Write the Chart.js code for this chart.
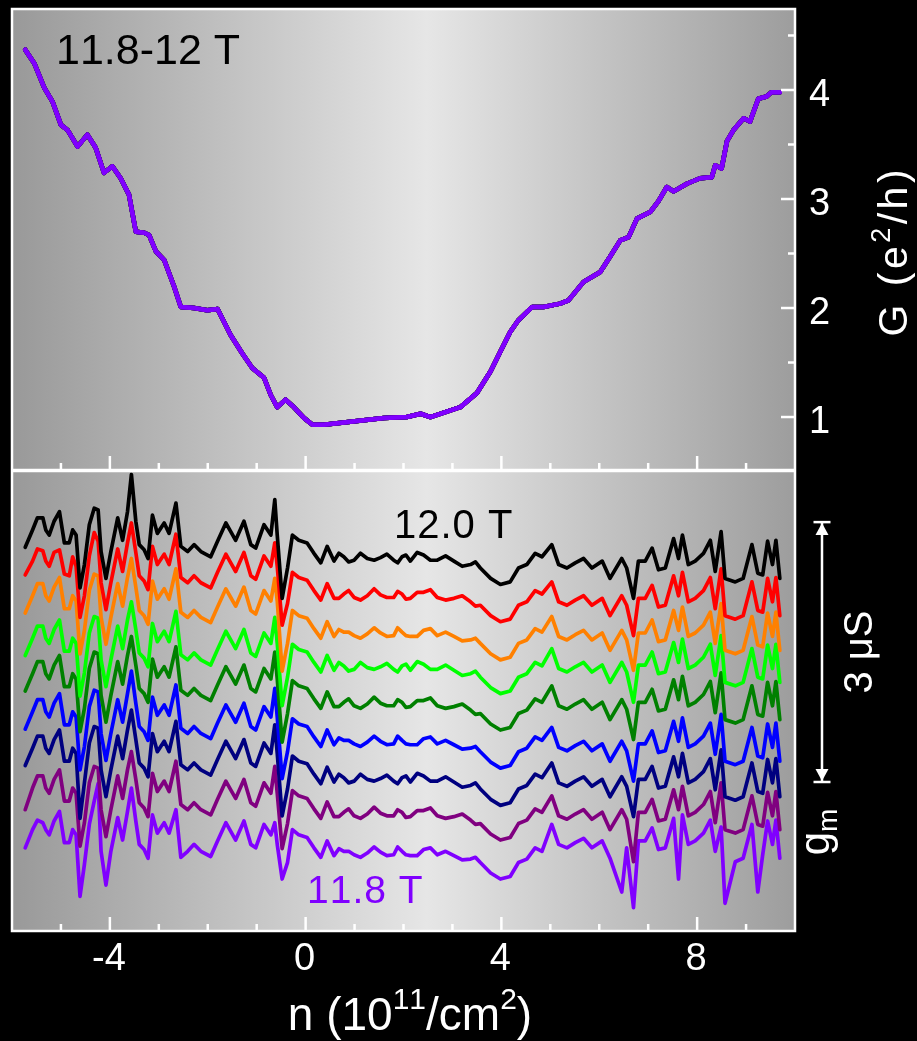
<!DOCTYPE html>
<html>
<head>
<meta charset="utf-8">
<script src="https://cdn.jsdelivr.net/npm/chart.js@4.4.0/dist/chart.umd.min.js"></script>
<style>
  html, body { margin: 0; padding: 0; background: #000; width: 917px; height: 1041px; overflow: hidden; }
  canvas { position: absolute; left: 0; }
  #topPanel { top: 0; }
  #gmPanel { top: 471px; }
</style>
</head>
<body>
<canvas id="topPanel" width="917" height="471"></canvas>
<canvas id="gmPanel" width="917" height="570"></canvas>
<script>
// ---- Magnetic fields of the sweep (T), top trace first ----
const fields = ['12.000', '11.975', '11.950', '11.925', '11.900', '11.875', '11.850', '11.825', '11.800'];
const traceColors = ['#000000', '#ff0000', '#ff8000', '#00ff00', '#008000', '#0000ff', '#000080', '#800080', '#8000ff'];

// ---- Two-terminal conductance G (e^2/h) vs density n (1e11 cm^-2) ----
const nG = [-5.73,-5.54,-5.34,-5.17,-5.00,-4.86,-4.66,-4.46,-4.29,-4.12,-3.95,-3.78,-3.61,-3.47,-3.30,-3.20,-3.06,-2.89,-2.69,-2.55,
  -2.28,-2.01,-1.80,-1.53,-1.29,-1.09,-0.85,-0.71,-0.58,-0.41,-0.24,-0.03,0.14,0.37,0.78,1.19,1.60,2.07,2.35,2.55,
  3.16,3.50,3.78,3.98,4.18,4.35,4.63,4.86,5.20,5.37,5.68,6.02,6.22,6.43,6.60,6.77,7.04,7.21,7.38,7.52,
  7.79,8.06,8.30,8.37,8.50,8.61,8.74,8.95,9.08,9.25,9.42,9.52,9.69];
const conductance = [4.37,4.24,4.02,3.89,3.68,3.63,3.48,3.59,3.47,3.24,3.30,3.19,3.04,2.70,2.69,2.67,2.52,2.44,2.20,2.01,
  2.00,1.98,1.99,1.75,1.58,1.45,1.36,1.20,1.09,1.16,1.09,0.99,0.93,0.93,0.95,0.97,0.99,1.00,1.03,1.00,
  1.09,1.22,1.42,1.60,1.78,1.89,2.01,2.01,2.04,2.07,2.24,2.33,2.47,2.62,2.65,2.82,2.88,2.98,3.11,3.07,
  3.14,3.19,3.20,3.31,3.28,3.53,3.63,3.74,3.71,3.92,3.94,3.98,3.98];
const gTickLabels = [1, 2, 3, 4];
const nTickLabels = [-4, 0, 4, 8];

// ---- Transconductance g_m traces (uS, stacked), sampled on a shared density grid ----
const nGrid = [-5.73,-5.58,-5.48,-5.37,-5.31,-5.24,-5.14,-5.03,-4.93,-4.83,
  -4.76,-4.69,-4.61,-4.52,-4.42,-4.32,-4.24,-4.18,-4.08,-3.98,
  -3.84,-3.74,-3.64,-3.56,-3.47,-3.40,-3.30,-3.22,-3.13,-3.03,
  -2.89,-2.79,-2.65,-2.55,-2.41,-2.28,-2.14,-1.94,-1.80,-1.63,
  -1.53,-1.43,-1.26,-1.12,-1.02,-0.85,-0.71,-0.63,-0.58,-0.48,
  -0.37,-0.27,-0.14,0.03,0.17,0.31,0.44,
  0.58,0.68,0.78,0.88,0.99,1.12,1.26,1.40,1.53,1.66,1.80,1.88,1.97,2.05,2.14,2.28,2.41,2.55,2.69,2.86,3.03,3.20,3.37,3.47,3.57,
  3.78,3.98,4.18,4.35,4.52,4.69,4.83,5.03,5.17,5.34,
  5.51,5.68,5.85,6.06,6.22,6.46,6.56,6.70,6.80,6.94,
  7.08,7.21,7.35,7.52,7.62,7.70,7.82,7.96,8.13,8.27,
  8.37,8.49,8.57,8.78,8.94,9.12,9.24,9.34,9.44,9.54,
  9.61,9.69];

const gm_12000 = [4.43,4.63,4.77,4.77,4.63,4.57,4.73,4.84,4.48,4.48,
  4.63,4.57,3.96,4.23,4.69,4.88,4.86,4.38,4.07,4.38,
  4.77,4.51,4.84,5.27,4.73,4.46,4.40,4.30,4.80,4.59,
  4.71,4.59,4.94,4.44,4.38,4.46,4.38,4.32,4.50,4.71,
  4.61,4.51,4.73,4.46,4.42,4.69,4.57,4.98,4.57,3.84,
  4.19,4.57,4.51,4.48,4.36,4.25,4.44,
  4.27,4.36,4.32,4.26,4.28,4.36,4.30,4.28,4.31,4.35,4.28,4.25,4.32,4.34,4.27,4.37,4.34,4.28,4.28,4.33,4.27,4.21,4.23,4.26,4.19,
  4.07,4.00,4.03,4.19,4.23,4.36,4.32,4.46,4.23,4.19,
  4.25,4.30,4.19,4.27,4.07,4.30,4.19,3.84,4.27,4.27,
  4.42,4.17,4.19,4.53,4.30,4.57,4.23,4.27,4.36,4.51,
  4.15,4.61,4.07,4.03,4.07,4.46,4.13,4.11,4.50,4.23,
  4.51,4.07];
const gm_11975 = [4.11,4.27,4.41,4.39,4.27,4.21,4.37,4.40,4.12,4.10,
  4.32,4.21,3.62,3.87,4.33,4.60,4.50,4.02,3.71,4.02,
  4.41,4.15,4.48,4.71,4.37,4.10,4.04,3.94,4.44,4.23,
  4.35,4.23,4.58,4.08,4.02,4.10,4.02,3.96,4.14,4.35,
  4.25,4.15,4.37,4.10,4.06,4.33,4.21,4.48,4.21,3.53,
  3.78,4.14,4.08,4.05,3.93,3.82,4.01,
  3.84,3.84,3.89,3.93,3.85,3.82,3.87,3.95,3.88,3.85,3.85,3.92,3.89,3.83,3.84,3.91,3.91,3.94,3.85,3.82,3.84,3.87,3.80,3.75,3.76,
  3.64,3.57,3.60,3.76,3.80,3.93,3.89,4.03,3.80,3.76,
  3.82,3.87,3.76,3.84,3.64,3.87,3.76,3.41,3.84,3.84,
  3.99,3.74,3.76,4.10,3.87,4.14,3.80,3.84,3.93,4.08,
  3.72,4.18,3.64,3.60,3.64,4.03,3.70,3.68,4.07,3.80,
  4.08,3.64];
const gm_11950 = [3.67,3.87,4.01,4.01,3.87,3.81,3.97,4.08,3.72,3.72,
  3.87,3.81,3.20,3.47,3.93,4.12,4.10,3.62,3.31,3.62,
  4.01,3.75,4.08,4.30,3.97,3.70,3.64,3.54,4.04,3.83,
  3.95,3.83,4.18,3.68,3.62,3.70,3.62,3.56,3.74,3.95,
  3.85,3.75,3.97,3.70,3.66,3.93,3.81,4.07,3.81,3.00,
  3.32,3.70,3.64,3.61,3.49,3.38,3.57,
  3.40,3.48,3.45,3.45,3.41,3.38,3.43,3.50,3.44,3.40,3.41,3.50,3.45,3.41,3.40,3.40,3.47,3.49,3.41,3.45,3.40,3.35,3.36,3.38,3.32,
  3.20,3.13,3.16,3.32,3.36,3.49,3.45,3.63,3.40,3.36,
  3.42,3.47,3.36,3.44,3.24,3.47,3.36,3.01,3.44,3.44,
  3.59,3.34,3.36,3.70,3.47,3.74,3.40,3.44,3.53,3.68,
  3.32,3.78,3.24,3.20,3.24,3.63,3.30,3.28,3.67,3.40,
  3.68,3.24];
const gm_11925 = [3.18,3.38,3.52,3.52,3.38,3.32,3.48,3.59,3.23,3.23,
  3.38,3.32,2.71,2.98,3.44,3.63,3.61,3.13,2.82,3.13,
  3.52,3.26,3.59,3.80,3.48,3.21,3.15,3.05,3.55,3.34,
  3.46,3.34,3.69,3.19,3.13,3.21,3.13,3.07,3.25,3.46,
  3.36,3.26,3.48,3.21,3.17,3.44,3.32,3.62,3.32,2.60,
  2.93,3.31,3.25,3.22,3.10,2.99,3.18,
  3.01,3.10,3.06,3.00,3.02,3.10,3.04,3.02,3.05,3.09,3.02,2.99,3.06,3.08,3.01,3.11,3.08,3.02,3.02,3.07,3.01,2.95,2.97,3.00,2.93,
  2.81,2.74,2.77,2.93,2.97,3.10,3.06,3.26,3.03,2.99,
  3.05,3.10,2.99,3.07,2.87,3.10,2.99,2.64,3.07,3.07,
  3.22,2.97,2.99,3.33,3.10,3.37,3.03,3.07,3.16,3.31,
  2.95,3.41,2.87,2.83,2.87,3.26,2.93,2.91,3.30,3.03,
  3.31,2.87];
const gm_11900 = [2.77,2.97,3.11,3.11,2.97,2.91,3.07,3.18,2.82,2.82,
  2.97,2.91,2.30,2.57,3.03,3.22,3.20,2.72,2.41,2.72,
  3.11,2.85,3.18,3.40,3.07,2.80,2.74,2.64,3.14,2.93,
  3.05,2.93,3.28,2.78,2.72,2.80,2.72,2.66,2.84,3.05,
  2.95,2.85,3.07,2.80,2.76,3.03,2.91,3.22,2.91,2.18,
  2.51,2.89,2.83,2.80,2.68,2.57,2.76,
  2.59,2.59,2.64,2.68,2.60,2.57,2.62,2.70,2.63,2.60,2.60,2.67,2.64,2.58,2.59,2.66,2.66,2.69,2.60,2.57,2.59,2.62,2.55,2.50,2.51,
  2.39,2.32,2.35,2.51,2.55,2.68,2.64,2.83,2.60,2.56,
  2.62,2.67,2.56,2.64,2.44,2.67,2.56,2.21,2.64,2.64,
  2.79,2.54,2.56,2.90,2.67,2.94,2.60,2.64,2.73,2.88,
  2.52,2.98,2.44,2.40,2.44,2.83,2.50,2.48,2.87,2.60,
  2.88,2.44];
const gm_11875 = [2.33,2.53,2.67,2.67,2.53,2.47,2.63,2.74,2.38,2.38,
  2.53,2.47,1.86,2.13,2.59,2.78,2.76,2.28,1.97,2.28,
  2.67,2.41,2.74,3.00,2.63,2.36,2.30,2.20,2.70,2.49,
  2.61,2.49,2.84,2.34,2.28,2.36,2.28,2.22,2.40,2.61,
  2.51,2.41,2.63,2.36,2.32,2.59,2.47,2.80,2.47,1.76,
  2.07,2.45,2.39,2.36,2.24,2.13,2.32,
  2.15,2.23,2.20,2.20,2.16,2.13,2.18,2.25,2.19,2.15,2.16,2.25,2.20,2.16,2.15,2.15,2.22,2.24,2.16,2.20,2.15,2.10,2.11,2.13,2.07,
  1.95,1.88,1.91,2.07,2.11,2.24,2.20,2.35,2.12,2.08,
  2.14,2.19,2.08,2.16,1.96,2.19,2.08,1.73,2.16,2.16,
  2.31,2.06,2.08,2.42,2.19,2.46,2.12,2.16,2.25,2.40,
  2.04,2.50,1.96,1.92,1.96,2.35,2.02,2.00,2.39,2.12,
  2.40,1.96];
const gm_11850 = [1.91,2.11,2.25,2.25,2.11,2.05,2.21,2.32,1.96,1.96,
  2.11,2.05,1.30,1.71,2.17,2.36,2.34,1.86,1.55,1.86,
  2.25,1.99,2.32,2.55,2.21,1.94,1.88,1.78,2.28,2.07,
  2.19,2.07,2.42,1.92,1.86,1.94,1.86,1.80,1.98,2.19,
  2.09,1.99,2.21,1.94,1.90,2.17,2.05,2.38,2.05,1.33,
  1.64,2.02,1.96,1.93,1.81,1.70,1.89,
  1.72,1.81,1.77,1.71,1.73,1.81,1.75,1.73,1.76,1.80,1.73,1.70,1.77,1.79,1.72,1.82,1.79,1.73,1.73,1.78,1.72,1.66,1.68,1.71,1.64,
  1.52,1.45,1.48,1.64,1.68,1.81,1.77,1.94,1.71,1.67,
  1.73,1.78,1.67,1.75,1.55,1.78,1.67,1.32,1.75,1.75,
  1.90,1.65,1.67,2.01,1.78,2.05,1.71,1.75,1.84,1.99,
  1.63,2.09,1.55,1.51,1.55,1.94,1.61,1.59,1.98,1.71,
  1.99,1.55];
const gm_11825 = [1.40,1.65,1.79,1.79,1.65,1.59,1.75,1.86,1.50,1.50,
  1.65,1.59,0.98,1.25,1.71,1.90,1.88,1.40,1.09,1.40,
  1.79,1.53,1.86,2.07,1.75,1.48,1.42,1.32,1.82,1.61,
  1.73,1.61,1.96,1.46,1.40,1.48,1.40,1.34,1.52,1.73,
  1.63,1.53,1.75,1.48,1.44,1.71,1.59,1.90,1.59,0.95,
  1.24,1.62,1.56,1.53,1.41,1.30,1.49,
  1.32,1.32,1.37,1.41,1.33,1.30,1.35,1.43,1.36,1.33,1.33,1.40,1.37,1.31,1.32,1.39,1.39,1.42,1.33,1.30,1.32,1.35,1.28,1.23,1.24,
  1.12,1.05,1.08,1.24,1.28,1.41,1.37,1.56,1.33,1.29,
  1.35,1.40,1.29,1.37,1.17,1.40,1.29,0.80,1.37,1.37,
  1.52,1.27,1.29,1.63,1.40,1.67,1.33,1.37,1.46,1.61,
  1.25,1.71,1.17,1.13,1.17,1.56,1.23,1.21,1.60,1.33,
  1.61,1.17];
const gm_11800 = [0.96,1.17,1.28,1.25,1.17,1.11,1.27,1.38,1.02,1.02,
  1.17,1.11,0.40,0.77,1.23,1.50,1.70,0.92,0.53,0.92,
  1.31,1.05,1.38,1.65,1.27,1.00,0.94,0.84,1.34,1.13,
  1.25,1.13,1.40,0.85,0.92,1.00,0.92,0.86,1.04,1.25,
  1.15,1.05,1.27,1.00,0.96,1.23,1.11,1.25,1.00,0.60,
  0.79,1.17,1.11,1.08,0.96,0.85,1.04,
  0.87,0.95,0.92,0.92,0.88,0.85,0.90,0.97,0.91,0.87,0.88,0.97,0.92,0.88,0.87,0.87,0.94,0.96,0.88,0.92,0.87,0.82,0.83,0.85,0.79,
  0.67,0.60,0.63,0.79,0.83,0.96,0.92,1.23,1.00,0.96,
  1.02,1.07,0.96,1.04,0.84,0.45,0.96,0.27,1.04,1.04,
  1.19,0.94,0.96,1.30,0.60,1.34,1.00,1.04,1.13,1.28,
  0.92,1.20,0.32,0.80,0.84,1.23,0.45,0.88,1.27,1.00,
  1.28,0.84];
const gmTraces = [gm_12000, gm_11975, gm_11950, gm_11925, gm_11900, gm_11875, gm_11850, gm_11825, gm_11800];

// Scale bar for the stacked g_m traces
const scaleBarUS = 3;
const scaleBarTop = 4.72;

// ---- Drawing helpers ----
const FONT = '"Liberation Sans", Arial, Helvetica, sans-serif';

function drawRich(ctx, parts, x, y, opts) {
  const o = Object.assign({ align: 'left', rotate: 0, spacing: 0, color: '#fff' }, opts || {});
  ctx.save();
  ctx.translate(x, y);
  if (o.rotate) ctx.rotate(o.rotate);
  ctx.fillStyle = o.color;
  ctx.textBaseline = 'alphabetic';
  ctx.textAlign = 'left';
  const glyphs = [];
  let total = 0;
  for (const p of parts) {
    ctx.font = p.size + 'px ' + FONT;
    for (const ch of p.t) {
      const w = ctx.measureText(ch).width;
      glyphs.push({ ch, size: p.size, dy: p.dy || 0, x: total });
      total += w + o.spacing;
    }
  }
  total -= o.spacing;
  const start = o.align === 'center' ? -total / 2 : (o.align === 'right' ? -total : 0);
  for (const g of glyphs) {
    ctx.font = g.size + 'px ' + FONT;
    ctx.fillText(g.ch, start + g.x, g.dy);
  }
  ctx.restore();
}

function seg(ctx, x1, y1, x2, y2) {
  ctx.beginPath();
  ctx.moveTo(x1, y1);
  ctx.lineTo(x2, y2);
  ctx.stroke();
}

function fillPanel(ctx, a) {
  const g = ctx.createLinearGradient(a.left, 0, a.right, 0);
  g.addColorStop(0, '#999999');
  g.addColorStop(0.53, '#e6e6e6');
  g.addColorStop(1, '#9d9d9d');
  ctx.save();
  ctx.fillStyle = g;
  ctx.fillRect(a.left, a.top, a.right - a.left, a.bottom - a.top);
  ctx.restore();
}

function drawFrameAndXTicks(ctx, a, xs) {
  ctx.save();
  ctx.strokeStyle = '#ffffff';
  ctx.lineWidth = 2.5;
  for (let n = Math.ceil(xs.min) + 1; n < xs.max; n++) {
    const px = xs.getPixelForValue(n);
    const len = nTickLabels.includes(n) ? 14 : 7;
    seg(ctx, px, a.bottom, px, a.bottom - len);
  }
  ctx.strokeRect(a.left, a.top, a.right - a.left, a.bottom - a.top);
  ctx.restore();
}

const baseOptions = (yMin, yMax, padding) => ({
  responsive: false,
  maintainAspectRatio: false,
  animation: false,
  devicePixelRatio: 1,
  events: [],
  layout: { padding },
  plugins: { legend: { display: false }, tooltip: { enabled: false } },
  elements: { point: { radius: 0 }, line: { tension: 0, borderJoinStyle: 'round', borderCapStyle: 'round' } },
  scales: {
    x: { type: 'linear', min: -6, max: 10, display: false },
    y: { type: 'linear', min: yMin, max: yMax, display: false }
  }
});

// ---- Upper panel: G(n) for all fields ----
const topDecor = {
  id: 'topDecor',
  beforeDatasetsDraw(chart) {
    fillPanel(chart.ctx, chart.chartArea);
  },
  afterDatasetsDraw(chart) {
    const { ctx, chartArea: a, scales: { x, y } } = chart;
    drawFrameAndXTicks(ctx, a, x);
    ctx.save();
    ctx.strokeStyle = '#ffffff';
    ctx.lineWidth = 2.5;
    for (let g = 1; g <= 4.5; g += 0.5) {
      const py = y.getPixelForValue(g);
      const len = Number.isInteger(g) ? 14 : 7;
      seg(ctx, a.right, py, a.right - len, py);
    }
    ctx.restore();
    for (const g of gTickLabels) {
      drawRich(ctx, [{ t: String(g), size: 38 }], 809, y.getPixelForValue(g) + 16);
    }
    drawRich(ctx, [{ t: 'G (e', size: 41 }, { t: '2', size: 27, dy: -17 }, { t: '/h)', size: 41 }],
      907, 253, { align: 'center', rotate: -Math.PI / 2, spacing: 3.5 });
    drawRich(ctx, [{ t: '11.8-12 T', size: 43 }], 56, 64, { color: '#000000' });
  }
};

const topDatasets = fields.map((f, i) => ({
  label: f + ' T',
  data: nG.map((n, k) => ({ x: n, y: conductance[k] })),
  borderColor: traceColors[i],
  borderWidth: 4.5,
  order: fields.length - 1 - i
}));

new Chart(document.getElementById('topPanel'), {
  type: 'line',
  data: { datasets: topDatasets },
  options: baseOptions(0.514, 4.743, { left: 12, right: 122, top: 9, bottom: 1 }),
  plugins: [topDecor]
});

// ---- Lower panel: stacked g_m(n) traces ----
const gmDecor = {
  id: 'gmDecor',
  beforeDatasetsDraw(chart) {
    fillPanel(chart.ctx, chart.chartArea);
  },
  afterDatasetsDraw(chart) {
    const { ctx, chartArea: a, scales: { x, y } } = chart;
    drawFrameAndXTicks(ctx, a, x);

    for (const n of nTickLabels) {
      drawRich(ctx, [{ t: String(n), size: 38 }], x.getPixelForValue(n) - 1, a.bottom + 39, { align: 'center' });
    }
    drawRich(ctx, [
      { t: 'n (10', size: 46 }, { t: '11', size: 30, dy: -21 },
      { t: '/cm', size: 46 }, { t: '2', size: 30, dy: -21 }, { t: ')', size: 46 }
    ], 410, a.bottom + 99, { align: 'center' });

    // scale bar
    const bx = 822;
    const yT = y.getPixelForValue(scaleBarTop);
    const yB = y.getPixelForValue(scaleBarTop - scaleBarUS);
    ctx.save();
    ctx.strokeStyle = '#ffffff';
    ctx.fillStyle = '#ffffff';
    ctx.lineWidth = 2.5;
    seg(ctx, bx, yT, bx, yB);
    seg(ctx, bx - 8.5, yT, bx + 8.5, yT);
    seg(ctx, bx - 8.5, yB, bx + 8.5, yB);
    ctx.beginPath();
    ctx.moveTo(bx, yT + 1); ctx.lineTo(bx - 6.5, yT + 13); ctx.lineTo(bx + 6.5, yT + 13); ctx.closePath();
    ctx.fill();
    ctx.beginPath();
    ctx.moveTo(bx, yB - 1); ctx.lineTo(bx - 6.5, yB - 13); ctx.lineTo(bx + 6.5, yB - 13); ctx.closePath();
    ctx.fill();
    ctx.restore();
    drawRich(ctx, [{ t: '3 \u03bcS', size: 40 }], 872, (yT + yB) / 2, { align: 'center', rotate: -Math.PI / 2 });
    drawRich(ctx, [{ t: 'g', size: 42 }, { t: 'm', size: 28, dy: 8 }], 829, 361, { align: 'center', rotate: -Math.PI / 2 });

    drawRich(ctx, [{ t: '12.0 T', size: 40 }], 394, 67, { color: '#000000', spacing: 1 });
    drawRich(ctx, [{ t: '11.8 T', size: 39 }], 307, 432, { color: traceColors[8], spacing: 1 });
  }
};

const gmDatasets = gmTraces.map((trace, i) => ({
  label: fields[i] + ' T',
  data: nGrid.map((n, k) => ({ x: n, y: trace[k] })),
  borderColor: traceColors[i],
  borderWidth: 3.7
}));

new Chart(document.getElementById('gmPanel'), {
  type: 'line',
  data: { datasets: gmDatasets },
  options: baseOptions(0, 5.31, { left: 12, right: 122, top: 0, bottom: 110 }),
  plugins: [gmDecor]
});
</script>
</body>
</html>
